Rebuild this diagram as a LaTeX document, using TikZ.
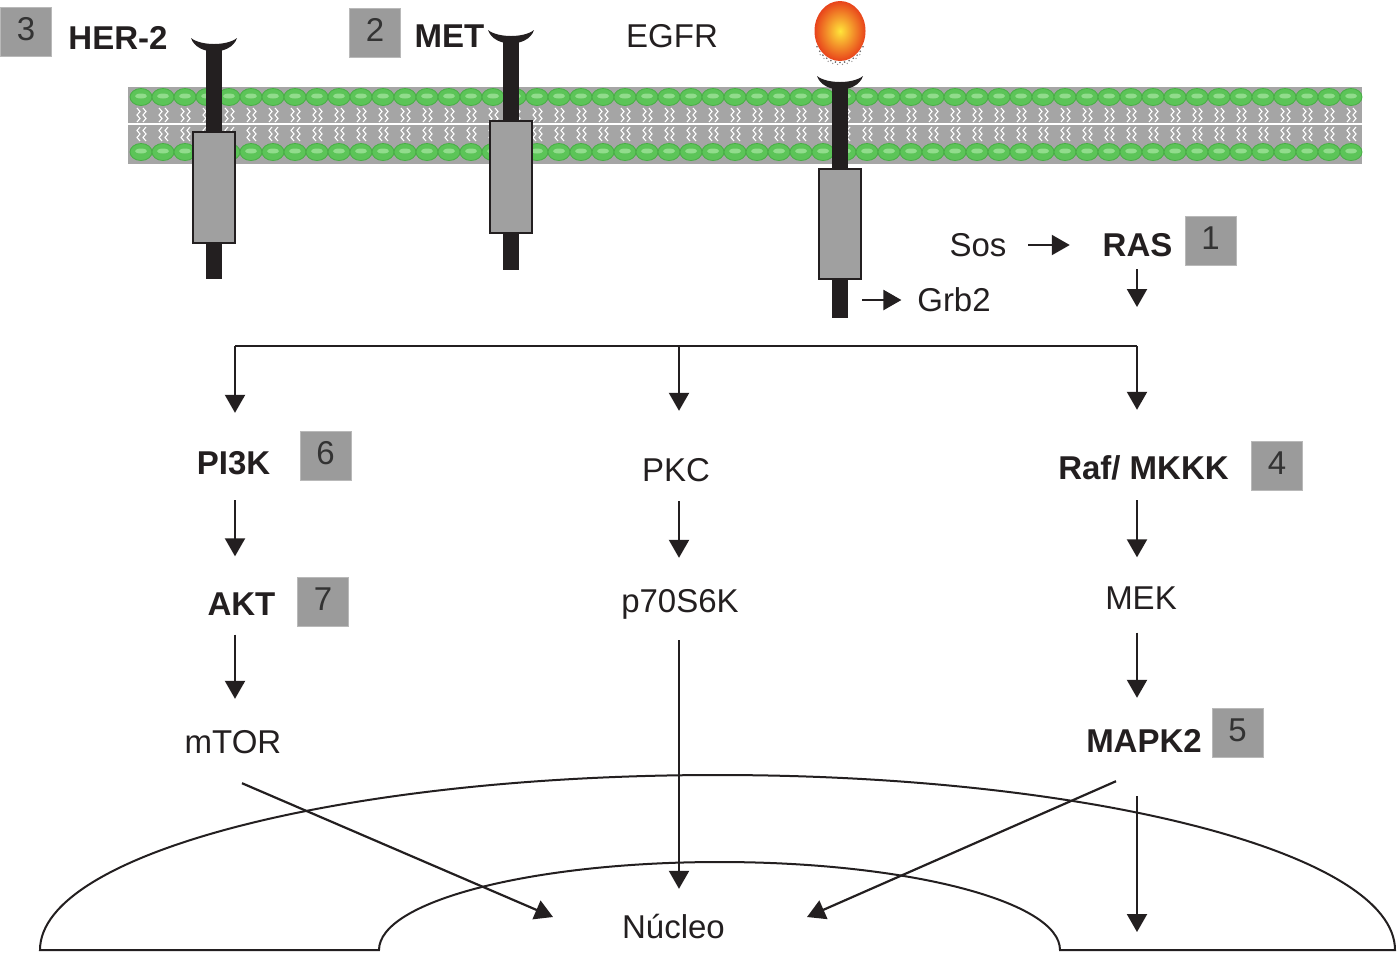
\documentclass[tikz,border=0pt]{standalone}
\usepackage{fontspec}
\setmainfont{Liberation Sans}
\usetikzlibrary{arrows.meta,calc}
\definecolor{ink}{HTML}{231F20}
\definecolor{boxgray}{HTML}{9B9B9B}
\definecolor{numink}{HTML}{333333}
\definecolor{bandgray}{HTML}{A5A5A5}
\definecolor{beadfill}{HTML}{5CC458}
\definecolor{beadedge}{HTML}{48AE45}
\definecolor{beadhi}{HTML}{9FE399}
\definecolor{recbox}{HTML}{A0A0A0}
\definecolor{ligin}{HTML}{FFE53A}
\definecolor{ligout}{HTML}{E8431B}
\newcommand\fs{\fontsize{16.5}{19}\selectfont}
\begin{document}
\begin{tikzpicture}[x=0.5pt,y=-0.5pt,
  lab/.style={inner sep=0pt, text height=11.8pt, text depth=0pt, font=\fs, text=ink},
  blab/.style={lab, font=\fs\bfseries},
  numbox/.style={fill=boxgray, draw=boxgray!70!white, line width=0.5pt,
    minimum width=25.5pt, minimum height=24.5pt, inner sep=0pt, font=\fs,
    text=numink, text height=11.8pt, text depth=3pt},
  arr/.style={draw=ink, line width=1.1pt, -{Triangle[length=9pt,width=10pt]}},
  link/.style={draw=ink, line width=1.1pt},
  nucl/.style={draw=ink, line width=1pt},
  bead/.style={fill=beadfill, draw=beadedge, line width=0.4pt}
  ]
\path[use as bounding box, fill=white] (0,0) rectangle (1397,955);

% ---------- membrane ----------
\fill[bandgray] (128,87) rectangle (1362,164);
\draw[white, line width=0.8pt] (128,124) -- (1362,124);
\foreach \i in {0,...,55}{
  \pgfmathsetmacro\bx{141+22*\i}
  \foreach \dx in {-4,2}{
    \draw[white, line width=0.55pt] (\bx+\dx,108)--(\bx+\dx+3,111.5)--(\bx+\dx,115)--(\bx+\dx+3,118.5)--(\bx+\dx,122);
    \draw[white, line width=0.55pt] (\bx+\dx+3,127)--(\bx+\dx,130.5)--(\bx+\dx+3,134)--(\bx+\dx,137.5)--(\bx+\dx+3,141);
  }
  \foreach \by in {97,152}{
    \path[bead] (\bx,\by) ellipse [x radius=11, y radius=8.5];
    \fill[beadhi, opacity=0.8] (\bx,\by-1) ellipse [x radius=6, y radius=2.5];
  }
}

% ---------- receptors ----------
\foreach \rx/\ct/\sb/\bt/\bb in {214/39/279/132/243, 511/31/270/121/233, 840/77/318/169/279}{
  \fill[ink] (\rx-8,\ct+6) rectangle (\rx+8,\sb);
  \fill[ink] (\rx-23,\ct-1) .. controls (\rx-17,\ct+17) and (\rx+17,\ct+17) .. (\rx+23,\ct-1)
     .. controls (\rx+13,\ct+7) and (\rx-13,\ct+7) .. cycle;
  \draw[ink, fill=recbox, line width=1pt] (\rx-21,\bt) rectangle (\rx+21,\bb);
}

% ---------- ligand ----------
\foreach \a in {30,40,...,150}{
  \fill[ink!70] (840,31) ++(\a:26.5 and 31.5) circle [radius=0.9];
}
\foreach \a in {45,55,...,135}{
  \fill[ink!50] (840,31) ++(\a:28 and 33.5) circle [radius=0.7];
}
\shade[inner color=ligin, outer color=ligout] (840,31) ellipse [x radius=25.5, y radius=30];

% ---------- labels ----------
\node[numbox] (n3) at (26,31.5) {3};
\node[blab] (her2) at (118,38) {HER-2};
\node[numbox] (n2) at (375,32.5) {2};
\node[blab] (met) at (449.5,36) {MET};
\node[lab] (egfr) at (672,36) {EGFR};
\node[lab] (sos) at (978,245) {Sos};
\node[blab] (ras) at (1137.5,245) {RAS};
\node[numbox] (n1) at (1210.5,241) {1};
\node[lab] (grb2) at (954,300) {Grb2};
\node[blab] (pi3k) at (233.5,463) {PI3K};
\node[numbox] (n6) at (325.5,455.5) {6};
\node[lab] (pkc) at (676,470) {PKC};
\node[blab] (raf) at (1143.5,468) {Raf/ MKKK};
\node[numbox] (n4) at (1277,465.5) {4};
\node[blab] (akt) at (241.5,603.5) {AKT};
\node[numbox] (n7) at (323,601.5) {7};
\node[lab] (p70) at (680,601) {p70S6K};
\node[lab] (mek) at (1141,597.5) {MEK};
\node[blab] (mapk) at (1144,741) {MAPK2};
\node[numbox] (n5) at (1237.5,732.5) {5};
\node[lab] (mtor) at (233,742) {mTOR};
\node[lab] (nuc) at (673.5,927) {Núcleo};

% ---------- helper coordinates ----------
\coordinate (cL) at (235,0);
\coordinate (cM) at (679,0);
\coordinate (cR) at (1137,0);
\coordinate (br) at (0,346);
\coordinate (g0) at (862,300);
\coordinate (nL) at (553,917);
\coordinate (nR) at (807,917);
\coordinate (nRR) at (1137,932);

% ---------- nucleus ----------
\draw[nucl] (40,950) arc[start angle=180, end angle=360, x radius=677.5, y radius=175]
  -- (1060,950) arc[start angle=360, end angle=180, x radius=340.5, y radius=88] -- cycle;

% ---------- connectors ----------
\draw[arr, shorten <=10.75pt, shorten >=16.25pt] (sos.east) -- (ras.west);
\draw[arr, shorten >=7.75pt] (g0) -- (grb2.west);
\draw[arr, shorten <=6pt, shorten >=19.5pt] (cR |- ras.south) -- (cR |- br);
\draw[link] (cL |- br) -- (cR |- br);
\draw[arr, shorten >=19pt] (cL |- br) -- (cL |- pi3k.north);
\draw[arr, shorten >=23.5pt] (cM |- br) -- (cM |- pkc.north);
\draw[arr, shorten >=23pt] (cR |- br) -- (cR |- raf.north);
\draw[arr, shorten <=12.5pt, shorten >=17.5pt] (cL |- pi3k.south) -- (cL |- akt.north);
\draw[arr, shorten <=9.5pt, shorten >=15.5pt] (cM |- pkc.south) -- (cM |- p70.north);
\draw[arr, shorten <=10pt, shorten >=14pt] (cR |- raf.south) -- (cR |- mek.north);
\draw[arr, shorten <=11.5pt, shorten >=15.5pt] (cR |- mek.south) -- (cR |- mapk.north);
\draw[arr, shorten <=9.5pt, shorten >=15.5pt] (cL |- akt.south) -- (cL |- mtor.north);
\draw[arr, shorten <=13.5pt, shorten >=13pt] (cM |- p70.south) -- (cM |- nuc.north);
\draw[arr] ([shift={(9,29)}]mtor.south) -- (nL);
\draw[arr] ([shift={(-28,28)}]mapk.south) -- (nR);
\draw[arr, shorten <=21.5pt] (cR |- mapk.south) -- (nRR);
\end{tikzpicture}
\end{document}
